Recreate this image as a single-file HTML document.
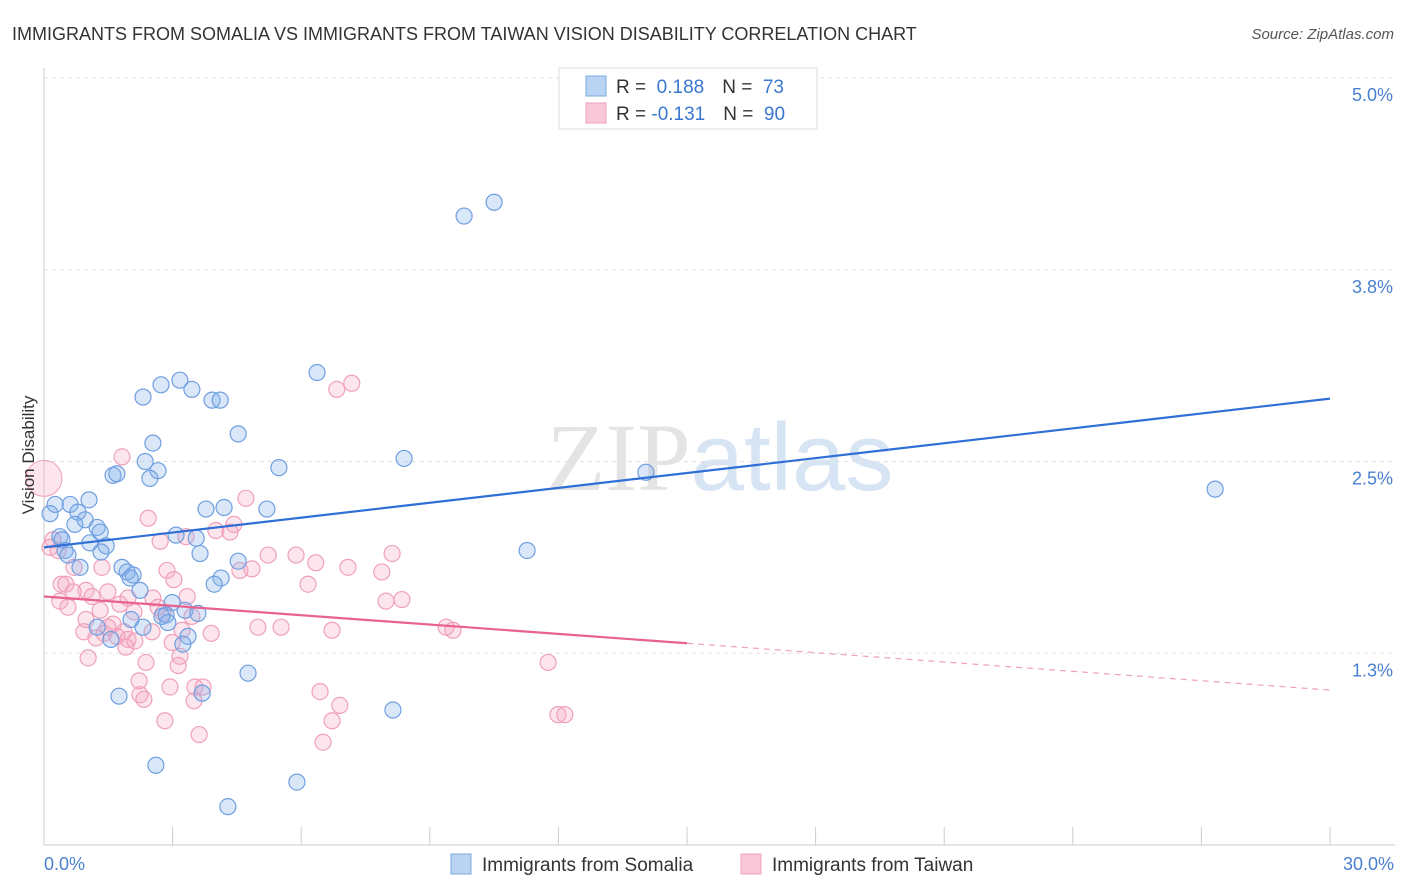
<!DOCTYPE html>
<html><head><meta charset="utf-8"><style>
body{margin:0;background:#fff;font-family:"Liberation Sans",sans-serif;}
svg{display:block}
</style></head><body>
<svg id="c" width="1406" height="892" xmlns="http://www.w3.org/2000/svg">
<text x="12" y="40" font-size="18" fill="#333">IMMIGRANTS FROM SOMALIA VS IMMIGRANTS FROM TAIWAN VISION DISABILITY CORRELATION CHART</text>
<text x="1394" y="39" font-size="15" fill="#555" font-style="italic" text-anchor="end">Source: ZipAtlas.com</text>
<text x="720" y="490" font-size="96" fill="#e4e4e4" text-anchor="middle" font-family="Liberation Serif,serif">ZIP<tspan fill="#d6e4f4" font-family="Liberation Sans,sans-serif">atlas</tspan></text>
<g id="grid"></g><g id="axes"></g><g id="marks"></g>
<text x="34" y="455" font-size="17" fill="#333" text-anchor="middle" transform="rotate(-90 34 455)">Vision Disability</text>
<g>
<rect x="559" y="68" width="258" height="61" fill="#fff" stroke="#ddd"/>
<rect x="586" y="76" width="20" height="20" fill="#b9d3f3" stroke="#7aa8e0"/>
<rect x="586" y="103" width="20" height="20" fill="#f9c8d8" stroke="#f0a0bb"/>
<text x="616" y="93" font-size="19" fill="#333">R = <tspan fill="#3a78d0">&#160;0.188</tspan><tspan dx="18">N = </tspan><tspan fill="#3a78d0">&#160;73</tspan></text>
<text x="616" y="120" font-size="19" fill="#333">R = <tspan fill="#3a78d0">-0.131</tspan><tspan dx="18">N = </tspan><tspan fill="#3a78d0">&#160;90</tspan></text>
</g>
<g>
<rect x="451" y="854" width="20" height="20" fill="#b9d3f3" stroke="#7aa8e0"/>
<text x="482" y="871" font-size="19" fill="#333">Immigrants from Somalia</text>
<rect x="741" y="854" width="20" height="20" fill="#f9c8d8" stroke="#f0a0bb"/>
<text x="772" y="871" font-size="19" fill="#333">Immigrants from Taiwan</text>
</g>
</svg>
<script>
const yTicks=[1.25,2.5,3.75,5.0];
const yTickLabels=["1.3%","2.5%","3.8%","5.0%"];
const xTickLabels=["0.0%","30.0%"];
const blueX=[9.80,10.50,6.37,3.17,2.73,3.45,2.31,3.92,4.11,4.53,2.54,8.40,2.36,5.48,2.66,1.61,1.70,2.47,14.04,27.32,1.05,0.61,0.26,0.14,0.79,4.20,3.78,5.20,0.96,0.72,1.24,1.31,0.37,0.42,3.08,3.55,1.07,1.45,0.49,0.56,1.33,3.64,11.27,4.53,0.84,1.82,1.94,2.08,2.01,4.13,3.97,2.24,2.99,3.29,3.59,2.85,2.75,2.03,2.89,1.24,2.31,3.36,1.56,3.24,4.76,1.75,3.69,8.14,2.61,5.90,4.29];
const blueY=[4.10,4.19,3.08,3.03,3.00,2.97,2.92,2.90,2.90,2.68,2.62,2.52,2.50,2.46,2.44,2.41,2.42,2.39,2.43,2.32,2.25,2.22,2.22,2.16,2.17,2.20,2.19,2.19,2.12,2.09,2.07,2.04,2.01,1.99,2.02,2.00,1.97,1.95,1.92,1.89,1.91,1.90,1.92,1.85,1.81,1.81,1.78,1.76,1.74,1.74,1.70,1.66,1.58,1.53,1.51,1.50,1.49,1.47,1.45,1.42,1.42,1.36,1.34,1.31,1.12,0.97,0.99,0.88,0.52,0.41,0.25];
const pinkX=[7.18,6.83,1.82,4.71,2.43,4.43,4.01,4.34,3.31,2.71,0.21,0.14,0.33,8.12,5.23,5.88,6.34,0.70,1.35,2.87,4.57,7.09,4.85,7.88,3.03,0.40,0.51,6.16,0.98,0.68,1.49,1.12,1.96,2.54,3.34,7.98,8.35,0.37,0.56,1.77,2.66,1.31,2.10,2.78,3.45,0.98,1.61,1.49,1.87,2.52,3.22,4.99,5.53,6.72,0.93,3.90,9.38,9.54,1.40,1.70,1.21,1.96,2.12,2.99,1.91,3.17,1.03,2.38,3.13,11.76,2.22,3.52,3.71,2.94,6.44,2.24,2.33,3.50,6.90,6.72,2.82,11.99,12.15,3.62,6.51];
const pinkY=[3.01,2.97,2.53,2.26,2.13,2.09,2.05,2.04,2.01,1.98,1.99,1.94,1.92,1.90,1.89,1.89,1.84,1.81,1.81,1.79,1.79,1.81,1.80,1.78,1.73,1.70,1.70,1.70,1.66,1.65,1.65,1.62,1.61,1.61,1.62,1.59,1.60,1.59,1.55,1.57,1.55,1.53,1.52,1.51,1.49,1.47,1.44,1.42,1.39,1.39,1.40,1.42,1.42,1.40,1.39,1.38,1.42,1.40,1.38,1.36,1.35,1.34,1.33,1.32,1.29,1.23,1.22,1.19,1.17,1.19,1.07,1.03,1.03,1.03,1.00,0.98,0.95,0.94,0.91,0.81,0.81,0.85,0.85,0.72,0.67];
const blueTrend=[1.94,2.91];
const pinkTrend=[1.62,1.01];
const pinkSolidEnd=15;
const NS="http://www.w3.org/2000/svg";
const X0=44,X1=1330,Y0=845,Y1=78;
function sx(v){return X0+(v/30)*(X1-X0);}
function sy(v){return Y0-(v/5)*(Y0-Y1);}
function mk(tag,attrs,parent){const e=document.createElementNS(NS,tag);for(const k in attrs)e.setAttribute(k,attrs[k]);parent.appendChild(e);return e;}
const grid=document.getElementById('grid'),axes=document.getElementById('axes'),marks=document.getElementById('marks');
yTicks.forEach((t,i)=>{
  const l=mk('line',{x1:X0,x2:1395,y1:sy(t),y2:sy(t),stroke:'#e2e2e2','stroke-dasharray':'4,4'},grid);
  
  
  const tx=mk('text',{x:1393,y:sy(t)+23,'font-size':18,fill:'#4a80d0','text-anchor':'end'},axes);
  tx.textContent=yTickLabels[i];
  
  
});
const ax=mk('line',{x1:X0,x2:X0,y1:68,y2:Y0,stroke:'#ccc'},axes);


const bx=mk('line',{x1:X0,x2:1395,y1:Y0,y2:Y0,stroke:'#ccc'},axes);


for(let i=0;i<=10;i++){
  const v=i*3;
  const t=mk('line',{x1:sx(v),x2:sx(v),y1:Y0,y2:Y0-18,stroke:'#ccc'},axes);
  
  
}
[[0,'start',44],[30,'end',1394]].forEach((d,i)=>{
  const t=mk('text',{x:d[2],y:870,'font-size':18,fill:'#4a80d0','text-anchor':d[1]},axes);
  t.textContent=xTickLabels[i];
  
  
});
function pts(xs,ys,fill,stroke,name){
  xs.forEach((x,i)=>{
    const c=mk('circle',{cx:sx(x),cy:sy(ys[i]),r:8,fill:fill,stroke:stroke,'stroke-width':1.2},marks);
    
    
  });
}
pts(pinkX,pinkY,'rgba(245,170,195,0.3)','#f0a0bb','taiwan-point');
pts(blueX,blueY,'rgba(130,175,235,0.3)','#6f9fe0','somalia-point');
const big=mk('circle',{cx:sx(0),cy:sy(2.39),r:18,fill:'rgba(245,170,195,0.3)',stroke:'#f0a0bb'},marks);


const bl=mk('line',{x1:sx(0),y1:sy(blueTrend[0]),x2:sx(30),y2:sy(blueTrend[1]),stroke:'#2f6fd6','stroke-width':2.2},marks);


const pm=pinkTrend[0]+(pinkTrend[1]-pinkTrend[0])*pinkSolidEnd/30;
const pl=mk('line',{x1:sx(0),y1:sy(pinkTrend[0]),x2:sx(pinkSolidEnd),y2:sy(pm),stroke:'#e8628f','stroke-width':2.2},marks);


const pd=mk('line',{x1:sx(pinkSolidEnd),y1:sy(pm),x2:sx(30),y2:sy(pinkTrend[1]),stroke:'#f0a0bb','stroke-width':1.2,'stroke-dasharray':'6,5'},marks);


</script>
</body></html>
